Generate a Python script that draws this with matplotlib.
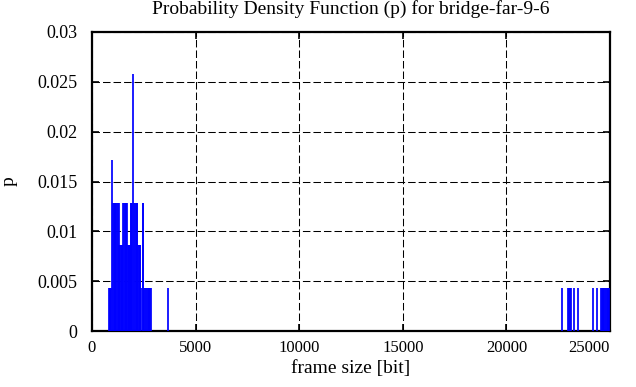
import matplotlib
matplotlib.use("Agg")
import matplotlib.pyplot as plt

# frame sizes [bit] and their probability (count / 233 frames)
frame_size = [810, 850, 890, 925,
              965,
              1010, 1050, 1090, 1130, 1170, 1210, 1250, 1280,
              1320, 1360, 1400, 1440, 1470,
              1505, 1545, 1585, 1625, 1660, 1690,
              1725, 1765, 1800, 1830,
              1865, 1900, 1930,
              1970,
              2030, 2070, 2110, 2150, 2180,
              2220, 2260, 2300, 2330,
              2380,
              2440, 2470,
              2530, 2570, 2610, 2650, 2690, 2730, 2770, 2810, 2840,
              3650,
              22670, 22950, 23000, 23050, 23100, 23250, 23440, 24170, 24360,
              24560, 24600, 24640, 24680, 24720, 24760, 24800, 24840, 24880, 24920, 24960]
counts = [1, 1, 1, 1,
          4,
          3, 3, 3, 3, 3, 3, 3, 3,
          2, 2, 2, 2, 2,
          3, 3, 3, 3, 3, 3,
          2, 2, 2, 2,
          3, 3, 3,
          6,
          3, 3, 3, 3, 3,
          2, 2, 2, 2,
          1,
          3, 3,
          1, 1, 1, 1, 1, 1, 1, 1, 1,
          1,
          1, 1, 1, 1, 1, 1, 1, 1, 1,
          1, 1, 1, 1, 1, 1, 1, 1, 1, 1, 1]
n_frames = 233
p = [c / n_frames for c in counts]

x_ticks = [0, 5000, 10000, 15000, 20000, 25000]
y_ticks = [0, 0.005, 0.01, 0.015, 0.02, 0.025, 0.03]
y_tick_labels = ["0", "0.005", "0.01", "0.015", "0.02", "0.025", "0.03"]

plt.rcParams['font.family'] = ['Liberation Serif', 'DejaVu Serif']

fig = plt.figure(figsize=(6.36, 3.87), dpi=100)
ax = fig.add_axes([92 / 636, 1 - 331 / 387, 518 / 636, 299 / 387])

ax.vlines(frame_size, 0, p, colors='#0000ff', linewidth=1.25, zorder=3)

ax.set_xlim(0, 25000)
ax.set_ylim(0, 0.03)
ax.set_xticks(x_ticks)
ax.set_xticklabels([str(t) for t in x_ticks], fontsize=12)
ax.set_yticks(y_ticks)
ax.set_yticklabels(y_tick_labels, fontsize=13)
ax.get_xticklabels()[-1].set_horizontalalignment('right')

ax.grid(True, color='black', linestyle=(0, (7.2, 2.9)), linewidth=0.75, zorder=1)
ax.set_axisbelow(True)
ax.tick_params(direction='in', top=True, right=True, length=5, width=1.2)
ax.tick_params(axis='x', pad=6.5)
ax.tick_params(axis='y', pad=10.5)
for s in ax.spines.values():
    s.set_linewidth(1.6)

ax.set_title("Probability Density Function (p) for bridge-far-9-6", fontsize=14, pad=13)
ax.set_xlabel("frame size [bit]", fontsize=14, labelpad=3)
ax.set_ylabel("p", fontsize=14)
ax.yaxis.set_label_coords(-0.143, 0.5)

fig.savefig("out.png", dpi=100)
